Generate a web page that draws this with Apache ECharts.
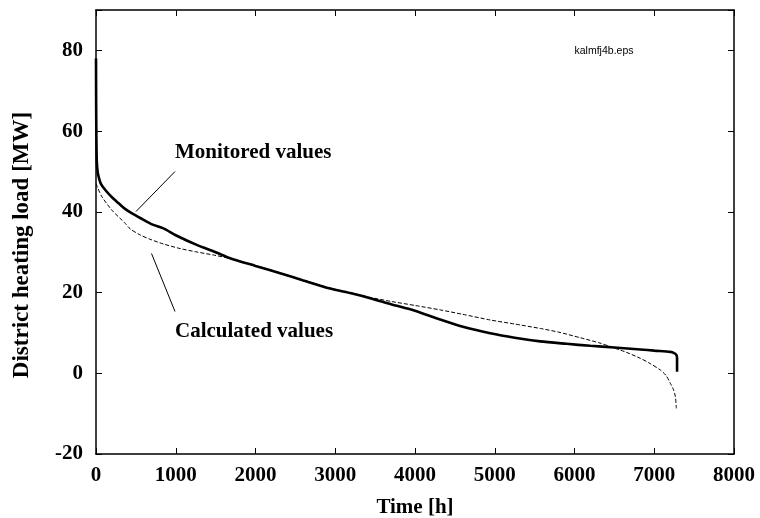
<!DOCTYPE html>
<html>
<head>
<meta charset="utf-8">
<script src="https://cdn.jsdelivr.net/npm/echarts@6/dist/echarts.min.js"></script>
<style>
html,body{margin:0;padding:0;background:#fff;}
#chart{width:760px;height:518px;}
</style>
</head>
<body>
<div id="chart"></div>
<script>
// ---- data ----
var monitoredHours = [0, 2, 5, 10, 20, 33, 60, 117, 200, 285, 360, 452, 580, 703, 845, 1000, 1263, 1500, 1681, 2000, 2309, 2600, 2936, 3200, 3438, 3700, 4000, 4316, 4600, 4944, 5250, 5571, 5900, 6198, 6500, 6826, 7000, 7202, 7250, 7275, 7286, 7286];
var monitoredLoad  = [78, 66, 58, 52.5, 50, 48.7, 47, 45.4, 43.6, 42.1, 40.8, 39.6, 38.2, 36.9, 35.9, 34.2, 31.8, 30.0, 28.5, 26.6, 24.8, 23.0, 21.0, 19.8, 18.6, 17.1, 15.5, 13.3, 11.5, 9.9, 8.8, 7.9, 7.3, 6.8, 6.4, 5.9, 5.6, 5.3, 5.0, 4.6, 3.8, 0.4];
var calculatedHours = [0, 20, 75, 200, 368, 427, 550, 678, 850, 1054, 1250, 1472, 1640, 2000, 2309, 2600, 2936, 3200, 3438, 3700, 4000, 4316, 4600, 4944, 5250, 5571, 5800, 6073, 6300, 6449, 6650, 6826, 6950, 7077, 7150, 7202, 7240, 7265, 7277];
var calculatedLoad  = [47, 46, 43.7, 40.4, 37.1, 35.8, 34.3, 33.2, 32.0, 30.9, 30.1, 29.3, 28.6, 26.7, 24.9, 23.1, 21.1, 19.9, 18.8, 17.8, 16.8, 15.7, 14.6, 13.2, 12.2, 11.1, 10.2, 8.8, 7.6, 6.6, 5.2, 3.7, 2.4, 0.8, -0.6, -2.5, -4.0, -5.8, -8.7];
var xTickLabels = ['0', '1000', '2000', '3000', '4000', '5000', '6000', '7000', '8000'];
var yTickLabels = ['-20', '0', '20', '40', '60', '80'];
var xTitle = 'Time [h]';
var yTitle = 'District heating load [MW]';
var seriesNames = ['Monitored values', 'Calculated values'];
var fileTag = 'kalmfj4b.eps';

function pairs(xs, ys) { return xs.map(function (x, i) { return [x, ys[i]]; }); }

var serif = "'Liberation Serif', 'Times New Roman', serif";
var chart = echarts.init(document.getElementById('chart'), null, {renderer: 'canvas'});

var tickLabelStyle = {fontFamily: serif, fontWeight: 'bold', fontSize: 21, color: '#000'};

function xFmt(v) { var s = String(v); return xTickLabels.indexOf(s) >= 0 ? s : ''; }
function yFmt(v) { var s = String(v); return yTickLabels.indexOf(s) >= 0 ? s : ''; }

var axisLine = {show: true, onZero: false, lineStyle: {color: '#000', width: 1.5}};
var axisTick = {show: true, inside: true, length: 6, lineStyle: {color: '#000', width: 1}};

chart.setOption({
  backgroundColor: '#fff',
  animation: false,
  grid: {left: 96, right: 26, top: 10, bottom: 64, containLabel: false, outerBoundsMode: 'none'},
  xAxis: [{
    type: 'value', min: 0, max: 8000, interval: 1000, position: 'bottom',
    name: xTitle, nameLocation: 'middle', nameGap: 43,
    nameTextStyle: {fontFamily: serif, fontWeight: 'bold', fontSize: 21, color: '#000'},
    axisLine: axisLine, axisTick: axisTick, splitLine: {show: false},
    axisLabel: Object.assign({margin: 11, formatter: xFmt}, tickLabelStyle)
  }, {
    type: 'value', min: 0, max: 8000, interval: 1000, position: 'top',
    axisLine: axisLine, axisTick: axisTick, splitLine: {show: false},
    axisLabel: {show: false}
  }],
  yAxis: [{
    type: 'value', min: -20, max: 90, interval: 20, position: 'left',
    axisLine: axisLine, axisTick: axisTick, splitLine: {show: false},
    axisLabel: Object.assign({margin: 13, formatter: yFmt}, tickLabelStyle)
  }, {
    type: 'value', min: -20, max: 90, interval: 20, position: 'right',
    axisLine: axisLine, axisTick: axisTick, splitLine: {show: false},
    axisLabel: {show: false}
  }],
  series: [{
    name: seriesNames[0], type: 'line', xAxisIndex: 0, yAxisIndex: 0,
    data: pairs(monitoredHours, monitoredLoad),
    showSymbol: false, symbol: 'none', smooth: 0.25,
    lineStyle: {color: '#000', width: 2.6}, z: 3
  }, {
    name: seriesNames[1], type: 'line', xAxisIndex: 0, yAxisIndex: 0,
    data: pairs(calculatedHours, calculatedLoad),
    showSymbol: false, symbol: 'none', smooth: 0.25,
    lineStyle: {color: '#000', width: 1, type: [4, 2]}, z: 2
  }],
  graphic: [
    {type: 'text', x: 22, y: 245, rotation: Math.PI / 2,
     style: {text: yTitle, fontFamily: serif, fontWeight: 'bold', fontSize: 23, fill: '#000', textAlign: 'center', textVerticalAlign: 'middle'}},
    {type: 'text', x: 175, y: 153,
     style: {text: seriesNames[0], fontFamily: serif, fontWeight: 'bold', fontSize: 21, fill: '#000', textAlign: 'left', textVerticalAlign: 'middle'}},
    {type: 'text', x: 175, y: 332,
     style: {text: seriesNames[1], fontFamily: serif, fontWeight: 'bold', fontSize: 21, fill: '#000', textAlign: 'left', textVerticalAlign: 'middle'}},
    {type: 'line', shape: {x1: 175, y1: 171.5, x2: 136, y2: 211.5}, style: {stroke: '#000', lineWidth: 1}},
    {type: 'line', shape: {x1: 151.5, y1: 253.5, x2: 175, y2: 311.5}, style: {stroke: '#000', lineWidth: 1}},
    {type: 'text', x: 604, y: 51,
     style: {text: fileTag, fontFamily: "'Liberation Sans', Arial, sans-serif", fontSize: 10.5, fill: '#000', textAlign: 'center', textVerticalAlign: 'middle'}}
  ]
});
</script>
</body>
</html>
